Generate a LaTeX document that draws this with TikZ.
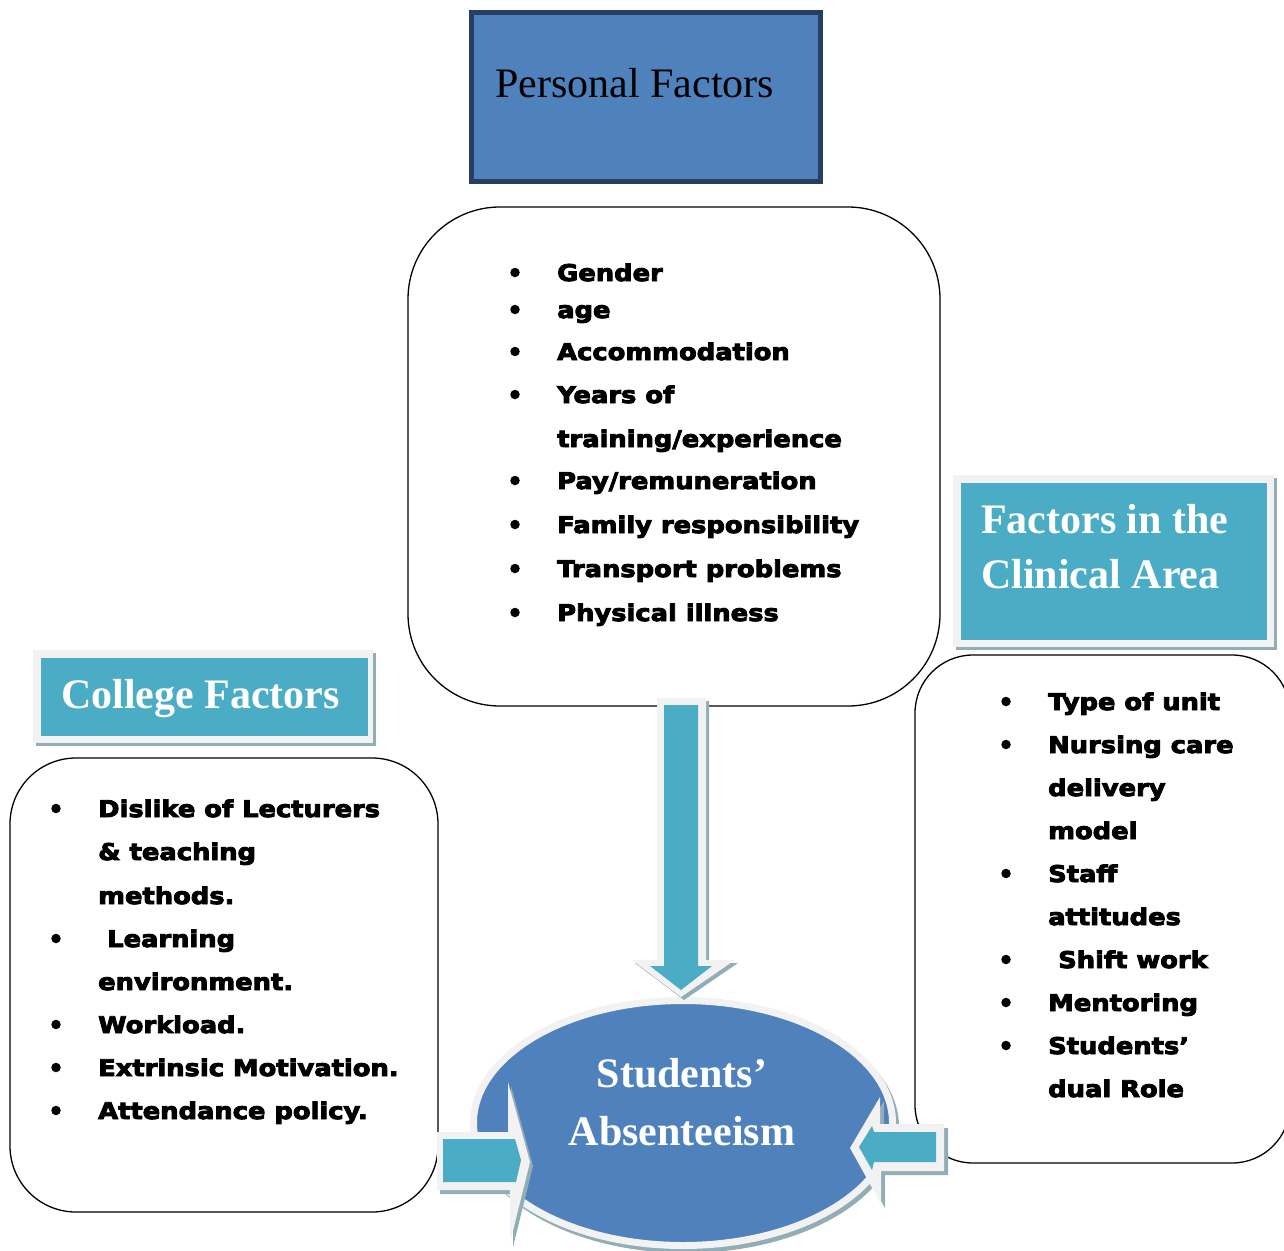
\documentclass[tikz,border=0pt]{standalone}
\usepackage{fontspec}
\usetikzlibrary{shapes.geometric}
\setmainfont{Liberation Serif}
\newfontfamily\listfont[FakeStretch=1.12,FakeBold=4]{DejaVu Sans Bold}
\definecolor{boxblue}{HTML}{4F81BD}
\definecolor{boxteal}{HTML}{4BACC6}
\definecolor{framegray}{HTML}{F2F2F2}
\definecolor{shadowgray}{HTML}{93ADB7}
\definecolor{navyedge}{HTML}{263F60}

\begin{document}
\begin{tikzpicture}[x=1pt,y=-1pt,
  listbox/.style={draw=black,line width=1.3pt,fill=white,inner sep=0pt},
  item/.style={anchor=base west,inner sep=0pt,font=\listfont\fontsize{23}{27}\selectfont},
  bulletdot/.style={circle,fill=black,inner sep=0pt,minimum size=9.5pt},
  headtext/.style={anchor=base west,inner sep=0pt,text=white,font=\bfseries\fontsize{42}{50}\selectfont},
  tealpanel/.style={fill=boxteal,draw=none,inner sep=0pt},
  arrowframe/.style={fill=framegray},
  arrowshadow/.style={fill=shadowgray},
  arrowcore/.style={fill=boxteal},
]
\useasboundingbox (0,0) rectangle (1284,1250);
\clip (0,0) rectangle (1284,1250);

% ---------- Personal factors ----------
\node[draw=navyedge,line width=5pt,fill=boxblue,minimum width=349pt,
      minimum height=169pt,inner sep=0pt] (personalhead) at (646,97) {};
\node[anchor=base west,inner sep=0pt,font=\fontsize{42}{50}\selectfont]
      (personaltitle) at (495,97) {Personal Factors};

\node[listbox,rounded corners=92pt,minimum width=532pt,minimum height=499pt]
      (personal) at (674,456.5) {};
\foreach \yy/\txt [count=\i] in {281/Gender,318/age,360/Accommodation,
    403/Years of,447/training{/}experience,489/Pay{/}remuneration,
    533/Family responsibility,577/Transport problems,621/Physical illness}
  \node[item] (p\i) at (557,\yy) {\txt};
\foreach \yy [count=\i] in {281,318,360,403,489,533,577,621}
  \node[bulletdot] (pb\i) at (515,\yy-8.5) {};

% ---------- College factors ----------
\fill[shadowgray] (36,653) rectangle (376,746);
\fill[framegray] (33,650) rectangle (373,743);
\node[tealpanel,minimum width=327pt,minimum height=78pt] (collegehead) at (204.5,697) {};
\node[headtext] (collegetitle) at (61,708) {College Factors};

\node[listbox,rounded corners=66pt,minimum width=428pt,minimum height=454pt]
      (college) at (224,985) {};
\node[item] (c1) at (98,817) {Dislike of Lecturers};
\node[item] (c2) at (98,860) {\& teaching};
\node[item] (c3) at (98,904) {methods.};
\node[item] (c4) at (107,947) {Learning};
\node[item] (c5) at (98,990) {environment.};
\node[item] (c6) at (98,1033) {Workload.};
\node[item] (c7) at (98,1076) {Extrinsic Motivation.};
\node[item] (c8) at (98,1119) {Attendance policy.};
\foreach \yy [count=\i] in {817,947,1033,1076,1119}
  \node[bulletdot] (cb\i) at (56,\yy-8.5) {};

% ---------- Factors in the clinical area ----------
\fill[shadowgray] (956,478) rectangle (1277,650);
\fill[framegray] (953,475) rectangle (1274,647);
\node[tealpanel,minimum width=306pt,minimum height=157pt] (clinicalhead) at (1114,561.5) {};
\node[headtext] (clinicaltitle1) at (981,533) {Factors in the};
\node[headtext] (clinicaltitle2) at (981,588) {Clinical Area};

\node[listbox,rounded corners=58pt,minimum width=375pt,minimum height=508pt]
      (clinical) at (1102.5,909) {};
\node[item] (k1) at (1048,710) {Type of unit};
\node[item] (k2) at (1048,753) {Nursing care};
\node[item] (k3) at (1048,796) {delivery};
\node[item] (k4) at (1048,839) {model};
\node[item] (k5) at (1048,882) {Staff};
\node[item] (k6) at (1048,925) {attitudes};
\node[item] (k7) at (1058,968) {Shift work};
\node[item] (k8) at (1048,1011) {Mentoring};
\node[item] (k9) at (1048,1054) {Students’};
\node[item] (k10) at (1048,1097) {dual Role};
\foreach \yy [count=\i] in {710,753,882,968,1011,1054}
  \node[bulletdot] (kb\i) at (1006,\yy-8.5) {};

% ---------- Central outcome ----------
\fill[shadowgray] (686,1127) ellipse [x radius=213pt,y radius=126pt];
\node[ellipse,fill=boxblue,draw=framegray,line width=7pt,inner sep=0pt,
      minimum width=419pt,minimum height=245pt] (absent) at (683,1123) {};
\node[anchor=base,inner sep=0pt,text=white,font=\bfseries\fontsize{42}{50}\selectfont]
      (absent1) at (682,1087) {Students’};
\node[anchor=base,inner sep=0pt,text=white,font=\bfseries\fontsize{42}{50}\selectfont]
      (absent2) at (682,1145) {Absenteeism};

% ---------- Block arrows into the outcome ----------
% from personal factors (down)
\fill[arrowshadow] (660,701) -- (709,701) -- (709,963) -- (738,963) -- (684,1000)
  -- (635,963) -- (660,963) -- cycle;
\fill[arrowframe] (657,698) -- (706,698) -- (706,960) -- (735,960) -- (681,997)
  -- (632,960) -- (657,960) -- cycle;
\fill[arrowcore] (664,705) -- (698,705) -- (698,966) -- (712,966) -- (681,990)
  -- (650,966) -- (664,966) -- cycle;

% from college factors (right)
\fill[arrowshadow] (440,1136) -- (511,1136) -- (511,1086) -- (533,1166) -- (513,1247)
  -- (513,1194) -- (440,1194) -- cycle;
\fill[arrowframe] (437,1132) -- (508,1132) -- (508,1082) -- (530,1162) -- (510,1243)
  -- (510,1190) -- (437,1190) -- cycle;
\fill[arrowcore] (443,1139) -- (515,1139) -- (521,1160) -- (516,1182) -- (443,1182) -- cycle;

% from the clinical area (left)
\fill[arrowshadow] (948,1128) -- (884,1128) -- (884,1101) -- (854,1152) -- (885,1208)
  -- (885,1175) -- (948,1175) -- cycle;
\fill[arrowframe] (944,1124) -- (880,1124) -- (880,1097) -- (850,1148) -- (881,1204)
  -- (881,1171) -- (944,1171) -- cycle;
\fill[arrowcore] (936,1132) -- (874,1132) -- (872,1126) -- (859,1147) -- (872,1170)
  -- (874,1162) -- (936,1162) -- cycle;
\end{tikzpicture}
\end{document}
